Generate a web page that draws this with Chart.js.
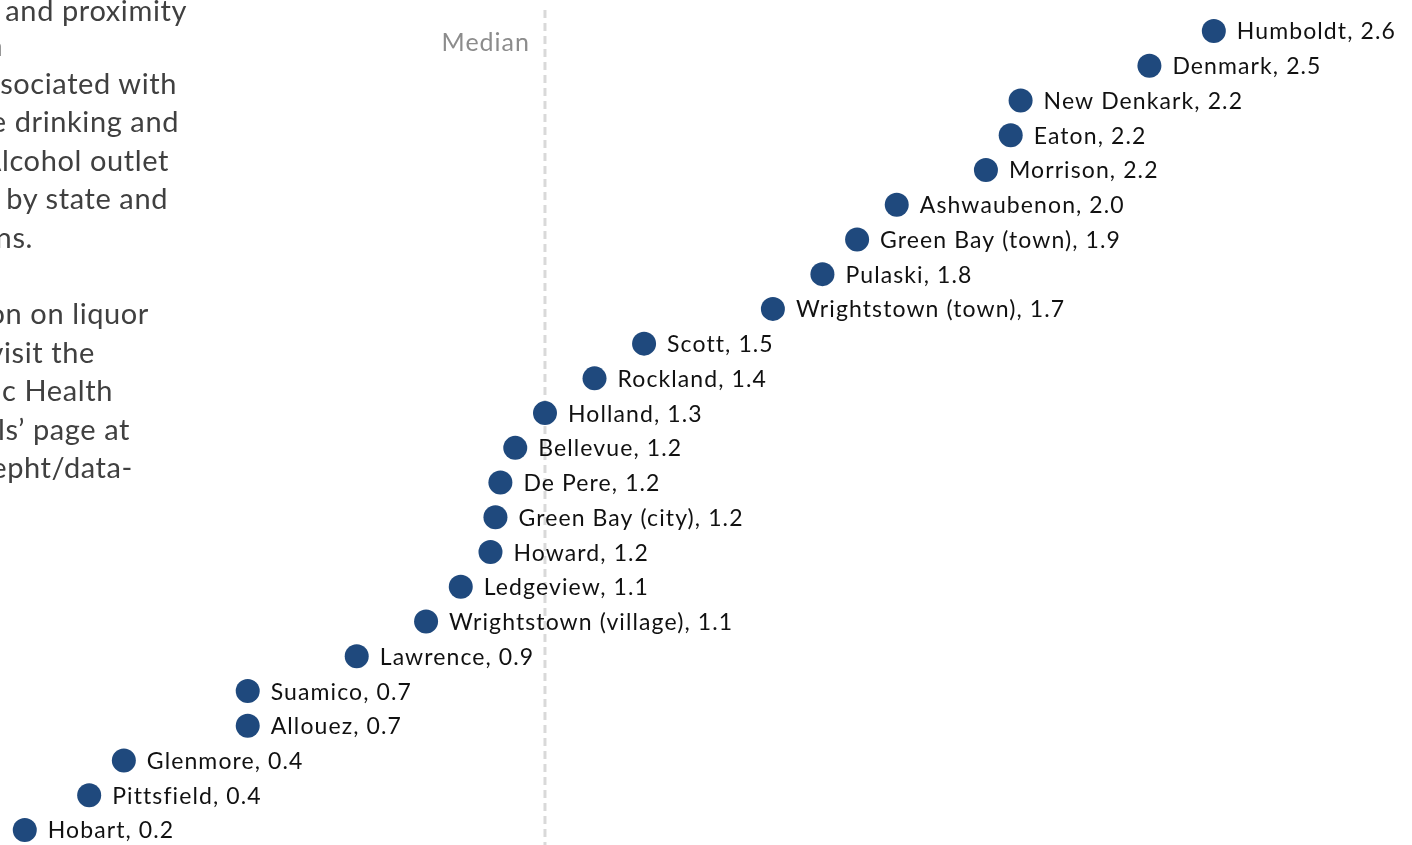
<!DOCTYPE html>
<html>
<head>
<meta charset="utf-8">
<script src="https://cdn.jsdelivr.net/npm/chart.js@4"></script>
<style>
  html, body { margin: 0; padding: 0; background: #fff; overflow: hidden; }
  #wrap { position: relative; width: 1412px; height: 845px; }
  #grafico { position: absolute; left: 0; top: 0; }
  .nota { position: absolute; white-space: nowrap; text-align: right; font-family: Lato, sans-serif;
          font-size: 29px; letter-spacing: 0.6px; color: #404040; line-height: 30px; }
</style>
</head>
<body>
<div id="wrap">
  <canvas id="grafico" width="1412" height="845"></canvas>
  <div id="notas"></div>
</div>
<script>
// municipalities, top to bottom
const comunidades = ['Humboldt', 'Denmark', 'New Denkark', 'Eaton', 'Morrison', 'Ashwaubenon',
  'Green Bay (town)', 'Pulaski', 'Wrightstown (town)', 'Scott', 'Rockland', 'Holland', 'Bellevue',
  'De Pere', 'Green Bay (city)', 'Howard', 'Ledgeview', 'Wrightstown (village)', 'Lawrence',
  'Suamico', 'Allouez', 'Glenmore', 'Pittsfield', 'Hobart'];
// estimated position of each dot
const densidade = [2.60, 2.47, 2.21, 2.19, 2.14, 1.96, 1.88, 1.81, 1.71, 1.45, 1.35, 1.25, 1.19,
  1.16, 1.15, 1.14, 1.08, 1.01, 0.87, 0.65, 0.65, 0.40, 0.33, 0.20];
// value printed in each label
const rotulos = ['2.6', '2.5', '2.2', '2.2', '2.2', '2.0', '1.9', '1.8', '1.7', '1.5', '1.4', '1.3', '1.2',
  '1.2', '1.2', '1.2', '1.1', '1.1', '0.9', '0.7', '0.7', '0.4', '0.4', '0.2'];
const mediana = 1.25;

// side note (cut off at the left edge)
const notas = [
  ['density and proximity', 187, 10],
  ['is shown', 3, 45],
  ['is associated with', 177, 83],
  ['excessive drinking and', 179, 121],
  ['harms. Alcohol outlet', 169, 160],
  ['regulated by state and', 168, 198],
  ['local regulations.', 33, 237],
  ['For more information on liquor', 149, 313],
  ['licenses, visit the', 95, 352],
  ['Wisconsin Public Health', 113, 390],
  ['Data Portals\u2019 page at', 130, 429],
  ['dhs.wisconsin.gov/epht/data-', 133, 467]
];

const caixa = document.getElementById('notas');
notas.forEach(([texto, fim, y]) => {
  const d = document.createElement('div');
  d.className = 'nota';
  d.textContent = texto;
  d.style.right = (1412 - fim) + 'px';
  d.style.top = (y - 15) + 'px';
  caixa.appendChild(d);
});

const linhaMediana = {
  id: 'linhaMediana',
  beforeDatasetsDraw(chart) {
    const { ctx, scales } = chart;
    const x = scales.x.getPixelForValue(mediana);
    ctx.save();
    ctx.strokeStyle = '#d9d9d9';
    ctx.lineWidth = 3;
    ctx.setLineDash([8, 5]);
    ctx.beginPath();
    ctx.moveTo(x, 10);
    ctx.lineTo(x, 845);
    ctx.stroke();
    ctx.setLineDash([]);
    ctx.fillStyle = '#8c8c8c';
    ctx.font = '25px Lato';
    ctx.letterSpacing = '1px';
    ctx.textAlign = 'right';
    ctx.textBaseline = 'middle';
    ctx.fillText('Median', x - 15, 43);
    ctx.restore();
  }
};

const rotulosPontos = {
  id: 'rotulosPontos',
  afterDatasetsDraw(chart) {
    const { ctx } = chart;
    const meta = chart.getDatasetMeta(0);
    ctx.save();
    ctx.fillStyle = '#111';
    ctx.font = '23px Lato';
    ctx.letterSpacing = '1.1px';
    ctx.textAlign = 'left';
    ctx.textBaseline = 'middle';
    meta.data.forEach((p, i) => {
      ctx.fillText(comunidades[i] + ', ' + rotulos[i], p.x + 23, p.y + 1);
    });
    ctx.restore();
  }
};

new Chart(document.getElementById('grafico').getContext('2d'), {
  type: 'scatter',
  data: {
    datasets: [{
      data: densidade.map((v, i) => ({ x: v, y: i })),
      backgroundColor: '#1f497d',
      borderWidth: 0,
      pointRadius: 12,
      pointHoverRadius: 12,
      clip: false
    }]
  },
  options: {
    responsive: false,
    animation: false,
    devicePixelRatio: 1,
    layout: { padding: 0, autoPadding: false },
    plugins: { legend: { display: false }, tooltip: { enabled: false } },
    scales: {
      x: { type: 'linear', min: 0.15, max: 3.0, display: false },
      y: { type: 'linear', min: -0.89, max: 23.43, reverse: true, display: false }
    }
  },
  plugins: [linhaMediana, rotulosPontos]
});
</script>
</body>
</html>
